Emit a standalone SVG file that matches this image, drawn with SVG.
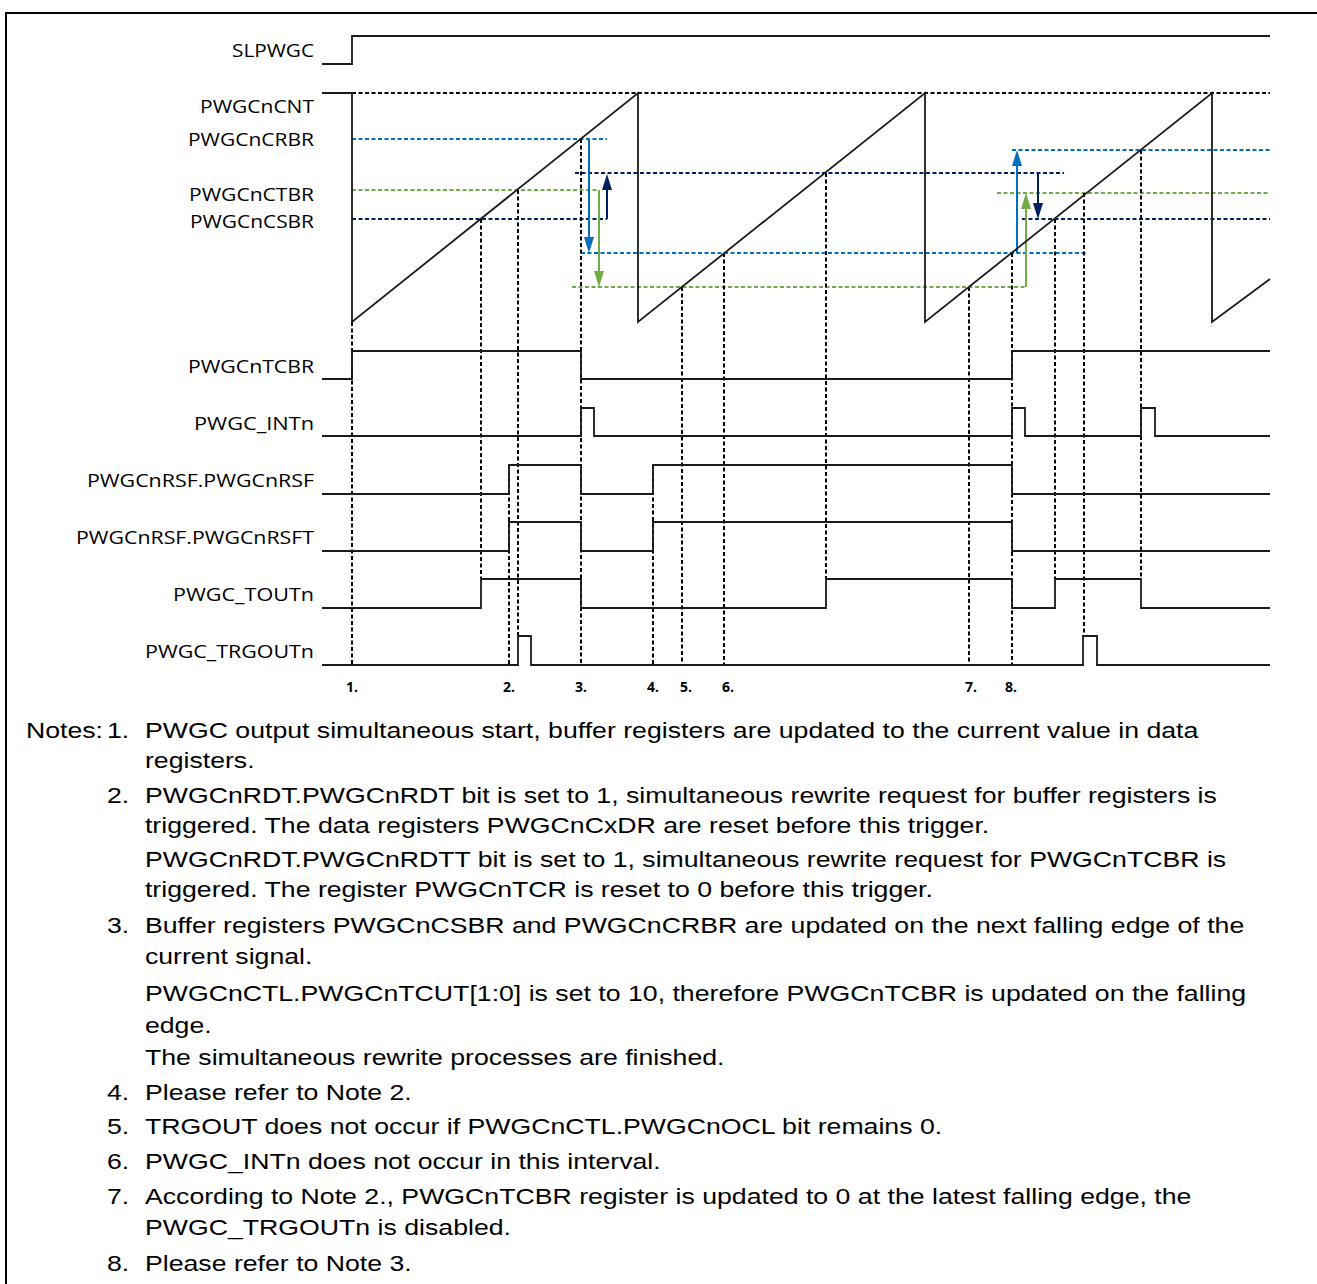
<svg xmlns="http://www.w3.org/2000/svg" width="1317" height="1284" viewBox="0 0 1317 1284">
<style>
.lbl{font-family:"Open Sans","Liberation Sans",sans-serif;font-size:18px;fill:#000;text-anchor:end}
.num{font-family:"Open Sans","Liberation Sans",sans-serif;font-size:14px;font-weight:bold;fill:#000}
.note{font-family:"Liberation Sans",Arial,sans-serif;font-size:22px;fill:#000}
.sig{fill:none;stroke:#1a1a1a;stroke-width:1.8}
.vd{fill:none;stroke:#000;stroke-width:2;stroke-dasharray:4 2.5}
.blue{fill:none;stroke:#0070C0;stroke-width:2;stroke-dasharray:4 2.5}
.green{fill:none;stroke:#70AD47;stroke-width:2;stroke-dasharray:4 2.5}
.navy{fill:none;stroke:#002060;stroke-width:2;stroke-dasharray:4 2.5}
.ab{stroke:#0070C0;stroke-width:2;fill:none;marker-end:url(#mb)}
.ag{stroke:#70AD47;stroke-width:2;fill:none;marker-end:url(#mg)}
.an{stroke:#002060;stroke-width:2;fill:none;marker-end:url(#mn)}
</style>
<defs>
<marker id="mb" viewBox="0 0 16 10" refX="8" refY="5" markerWidth="16" markerHeight="10" markerUnits="userSpaceOnUse" orient="auto"><path d="M0,0 L16,5 L0,10 z" fill="#0070C0"/></marker>
<marker id="mg" viewBox="0 0 16 10" refX="8" refY="5" markerWidth="16" markerHeight="10" markerUnits="userSpaceOnUse" orient="auto"><path d="M0,0 L16,5 L0,10 z" fill="#70AD47"/></marker>
<marker id="mn" viewBox="0 0 16 10" refX="8" refY="5" markerWidth="16" markerHeight="10" markerUnits="userSpaceOnUse" orient="auto"><path d="M0,0 L16,5 L0,10 z" fill="#002060"/></marker>
</defs>
<rect width="1317" height="1284" fill="#fff"/>
<path d="M6,1284 V13 H1317" fill="none" stroke="#000" stroke-width="2"/>

<g id="connectors">
<path class="vd" d="M352,93 H1270"/>
<path class="blue" d="M352,139 H607 M581,253 H1088 M1012,150 H1270"/>
<path class="green" d="M352,190 H599 M572,287 H1026 M997,193 H1268"/>
<path class="navy" d="M352,219 H607 M575,173 H1064 M1022,219 H1270"/>
<path class="vd" d="M352,322 V665 M481,219 V579 M509,465 V665 M518,190 V636 M581,139 V665 M653,465 V665 M682,287 V665 M724,253 V665 M826,173 V579 M969,287 V665 M1012,253 V665 M1055,219 V579 M1084,193 V636 M1141,150 V579"/>
<path class="ab" d="M589,139 V245"/>
<path class="ag" d="M599,190 V279"/>
<path class="an" d="M607,219 V182"/>
<path class="ab" d="M1017,253 V158"/>
<path class="ag" d="M1026,287 V201"/>
<path class="an" d="M1038,173 V211"/>
</g>

<g id="SLPWGC"><text class="lbl" x="314" y="57" textLength="82" lengthAdjust="spacingAndGlyphs">SLPWGC</text><path class="sig" d="M322,64 H352 V36 H1270"/></g>
<g id="PWGCnCNT"><text class="lbl" x="314" y="113" textLength="114" lengthAdjust="spacingAndGlyphs">PWGCnCNT</text><path class="sig" d="M322,93 H352 V322 L638,93 V322 L925,93 V322 L1212,93 V322 L1270,279"/></g>
<g id="PWGCnCRBR"><text class="lbl" x="314" y="146" textLength="126" lengthAdjust="spacingAndGlyphs">PWGCnCRBR</text></g>
<g id="PWGCnCTBR"><text class="lbl" x="314" y="201" textLength="125" lengthAdjust="spacingAndGlyphs">PWGCnCTBR</text></g>
<g id="PWGCnCSBR"><text class="lbl" x="314" y="228" textLength="124" lengthAdjust="spacingAndGlyphs">PWGCnCSBR</text></g>
<g id="PWGCnTCBR"><text class="lbl" x="314" y="373" textLength="126" lengthAdjust="spacingAndGlyphs">PWGCnTCBR</text><path class="sig" d="M322,379 H352 V351 H581 V379 H1012 V351 H1270"/></g>
<g id="PWGC_INTn"><text class="lbl" x="314" y="430" textLength="120" lengthAdjust="spacingAndGlyphs">PWGC_INTn</text><path class="sig" d="M322,436 H581 V408 H594 V436 H1012 V408 H1025 V436 H1141 V408 H1155 V436 H1270"/></g>
<g id="PWGCnRSF"><text class="lbl" x="314" y="487" textLength="227" lengthAdjust="spacingAndGlyphs">PWGCnRSF.PWGCnRSF</text><path class="sig" d="M322,494 H509 V465 H581 V494 H653 V465 H1012 V494 H1270"/></g>
<g id="PWGCnRSFT"><text class="lbl" x="314" y="544" textLength="238" lengthAdjust="spacingAndGlyphs">PWGCnRSF.PWGCnRSFT</text><path class="sig" d="M322,551 H509 V522 H581 V551 H653 V522 H1012 V551 H1270"/></g>
<g id="PWGC_TOUTn"><text class="lbl" x="314" y="601" textLength="141" lengthAdjust="spacingAndGlyphs">PWGC_TOUTn</text><path class="sig" d="M322,608 H481 V579 H581 V608 H826 V579 H1012 V608 H1055 V579 H1141 V608 H1270"/></g>
<g id="PWGC_TRGOUTn"><text class="lbl" x="314" y="658" textLength="169" lengthAdjust="spacingAndGlyphs">PWGC_TRGOUTn</text><path class="sig" d="M322,665 H518 V636 H531 V665 H1083 V636 H1097 V665 H1270"/></g>

<g id="markers">
<text class="num" x="346" y="692">1.</text>
<text class="num" x="503" y="692">2.</text>
<text class="num" x="575" y="692">3.</text>
<text class="num" x="647" y="692">4.</text>
<text class="num" x="680" y="692">5.</text>
<text class="num" x="722" y="692">6.</text>
<text class="num" x="965" y="692">7.</text>
<text class="num" x="1005" y="692">8.</text>
</g>

<g id="notes" transform="scale(1.213,1)">
<text class="note" x="21.4" y="738">Notes:</text>
<text class="note" x="88.2" y="738">1.</text>
<text class="note" x="119.5" y="738">PWGC output simultaneous start, buffer registers are updated to the current value in data</text>
<text class="note" x="119.5" y="768">registers.</text>
<text class="note" x="88.2" y="803">2.</text>
<text class="note" x="119.5" y="803">PWGCnRDT.PWGCnRDT bit is set to 1, simultaneous rewrite request for buffer registers is</text>
<text class="note" x="119.5" y="833">triggered. The data registers PWGCnCxDR are reset before this trigger.</text>
<text class="note" x="119.5" y="867">PWGCnRDT.PWGCnRDTT bit is set to 1, simultaneous rewrite request for PWGCnTCBR is</text>
<text class="note" x="119.5" y="897">triggered. The register PWGCnTCR is reset to 0 before this trigger.</text>
<text class="note" x="88.2" y="933">3.</text>
<text class="note" x="119.5" y="933">Buffer registers PWGCnCSBR and PWGCnCRBR are updated on the next falling edge of the</text>
<text class="note" x="119.5" y="964">current signal.</text>
<text class="note" x="119.5" y="1001">PWGCnCTL.PWGCnTCUT[1:0] is set to 10, therefore PWGCnTCBR is updated on the falling</text>
<text class="note" x="119.5" y="1033">edge.</text>
<text class="note" x="119.5" y="1065">The simultaneous rewrite processes are finished.</text>
<text class="note" x="88.2" y="1100">4.</text>
<text class="note" x="119.5" y="1100">Please refer to Note 2.</text>
<text class="note" x="88.2" y="1134">5.</text>
<text class="note" x="119.5" y="1134">TRGOUT does not occur if PWGCnCTL.PWGCnOCL bit remains 0.</text>
<text class="note" x="88.2" y="1169">6.</text>
<text class="note" x="119.5" y="1169">PWGC_INTn does not occur in this interval.</text>
<text class="note" x="88.2" y="1204">7.</text>
<text class="note" x="119.5" y="1204">According to Note 2., PWGCnTCBR register is updated to 0 at the latest falling edge, the</text>
<text class="note" x="119.5" y="1235">PWGC_TRGOUTn is disabled.</text>
<text class="note" x="88.2" y="1271">8.</text>
<text class="note" x="119.5" y="1271">Please refer to Note 3.</text>
</g>
</svg>
